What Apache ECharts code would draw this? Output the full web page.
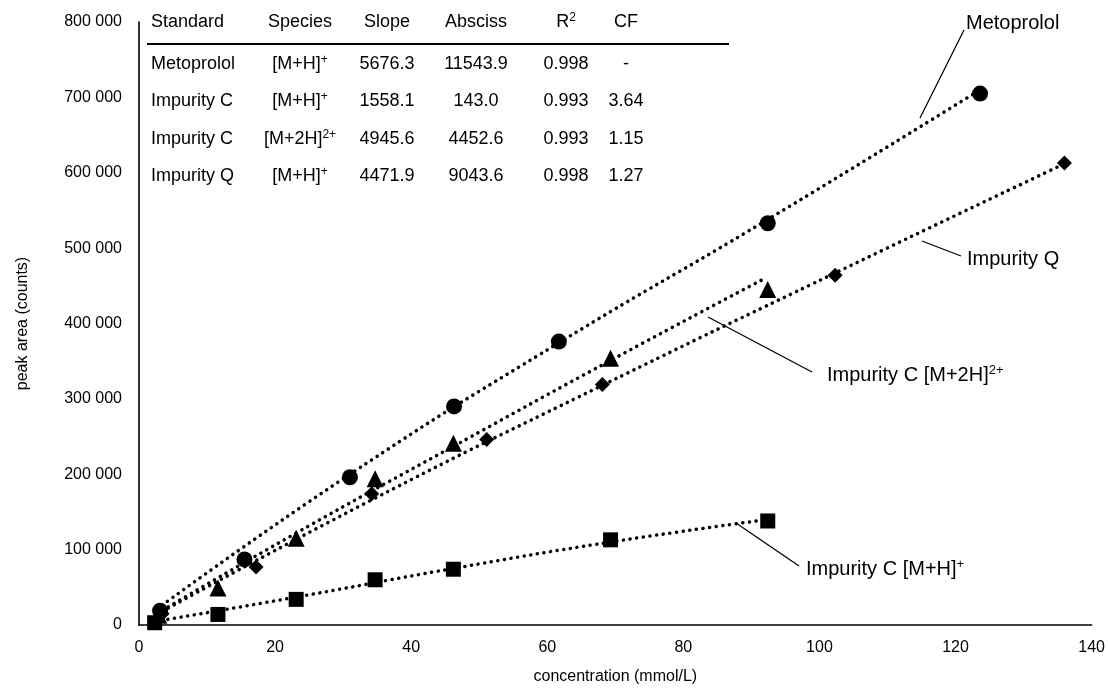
<!DOCTYPE html>
<html>
<head>
<meta charset="utf-8">
<script src="https://cdn.jsdelivr.net/npm/echarts@6/dist/echarts.min.js"></script>
<style>
  html, body { margin: 0; padding: 0; background: #ffffff; }
  #chart { width: 1108px; height: 693px; }
</style>
</head>
<body>
<div id="chart"></div>
<script>
// Calibration measurements: concentration (mmol/L) vs. peak area (counts)
const metoprololPoints = [[3.1, 19000], [15.5, 87000], [31.0, 196000], [46.3, 290000], [61.7, 376000], [92.4, 533000], [123.6, 705000]];
const impurityC2HPoints = [[2.9, 13000], [11.6, 49000], [23.1, 115000], [34.7, 194000], [46.2, 241000], [69.3, 354000], [92.4, 445000]];
const impurityQPoints = [[3.4, 15000], [17.2, 77000], [34.2, 174000], [51.1, 246000], [68.1, 319000], [102.3, 464000], [136.0, 613000]];
const impurityCHPoints = [[2.3, 3000], [11.6, 14000], [23.1, 34000], [34.7, 60000], [46.2, 74000], [69.3, 113000], [92.4, 138000]];

// Fitted calibration curves (dotted)
const metoprololFit = [[2.6, 21000], [31.0, 200000], [62.0, 376000], [92.4, 538000], [123.6, 710000]];
const impurityC2HFit = [[2.6, 15000], [23.1, 122000], [46.2, 237000], [69.3, 351000], [92.0, 460000]];
const impurityQFit = [[2.6, 14000], [34.2, 166000], [68.1, 318000], [102.3, 467000], [136.0, 612000]];
const impurityCHFit = [[2.3, 4500], [23.1, 37000], [46.2, 75000], [69.3, 110000], [92.4, 140000]];

// Summary table
const tableHeader = ['Standard', 'Species', 'Slope', 'Absciss', 'R', 'CF'];
const tableHeaderSup = ['', '', '', '', '2', ''];
const tableStandard = ['Metoprolol', 'Impurity C', 'Impurity C', 'Impurity Q'];
const tableSpeciesBase = ['[M+H]', '[M+H]', '[M+2H]', '[M+H]'];
const tableSpeciesCharge = ['+', '+', '2+', '+'];
const tableSlope = ['5676.3', '1558.1', '4945.6', '4471.9'];
const tableAbsciss = ['11543.9', '143.0', '4452.6', '9043.6'];
const tableR2 = ['0.998', '0.993', '0.993', '0.998'];
const tableCF = ['-', '3.64', '1.15', '1.27'];

// Axis ranges
const xMin = 0, xMax = 140, xStep = 20;
const yMin = 0, yMax = 800000, yStep = 100000;

const FONT = '"Liberation Sans", Arial, sans-serif';
const INK = '#000000';

const chart = echarts.init(document.getElementById('chart'), null, { renderer: 'canvas' });

function fmtThousands(v) {
  return String(v).replace(/\B(?=(\d{3})+(?!\d))/g, ' ');
}

function makeRich(size) {
  return {
    base: { fontSize: size, fontFamily: FONT, color: INK, lineHeight: size + 2 },
    sup: { fontSize: Math.round(size * 0.66), fontFamily: FONT, color: INK, verticalAlign: 'top', lineHeight: size + 2 }
  };
}

function richText(base, sup) {
  return sup ? '{base|' + base + '}{sup|' + sup + '}' : '{base|' + base + '}';
}

function textEl(str, x, y, align, size) {
  return {
    type: 'text', x: x, y: y, silent: true,
    style: {
      text: str, rich: makeRich(size), align: align, verticalAlign: 'middle',
      fontFamily: FONT, fontSize: size, fill: INK
    }
  };
}

// Table layout
const TABLE_FONT = 18;
const colX = [151, 300, 387, 476, 566, 626];
const colAlign = ['left', 'center', 'center', 'center', 'center', 'center'];
const headerY = 22;
const rowY = [64, 101, 139, 176];

const graphics = [];
tableHeader.forEach((h, i) => {
  graphics.push(textEl(richText(h, tableHeaderSup[i]), colX[i], headerY, colAlign[i], TABLE_FONT));
});
graphics.push({
  type: 'line', silent: true,
  shape: { x1: 147, y1: 44, x2: 729, y2: 44 },
  style: { stroke: INK, lineWidth: 2 }
});
tableStandard.forEach((s, r) => {
  const cells = [
    richText(s),
    richText(tableSpeciesBase[r], tableSpeciesCharge[r]),
    richText(tableSlope[r]),
    richText(tableAbsciss[r]),
    richText(tableR2[r]),
    richText(tableCF[r])
  ];
  cells.forEach((c, i) => graphics.push(textEl(c, colX[i], rowY[r], colAlign[i], TABLE_FONT)));
});

// Curve callouts
const CALLOUT_FONT = 20;
const callouts = [
  { text: richText('Metoprolol'), tx: 966, ty: 23, lx1: 964, ly1: 30, lx2: 920, ly2: 118 },
  { text: richText('Impurity Q'), tx: 967, ty: 259, lx1: 961, ly1: 256, lx2: 922, ly2: 241 },
  { text: richText('Impurity C [M+2H]', '2+'), tx: 827, ty: 375, lx1: 812, ly1: 372, lx2: 708, ly2: 317 },
  { text: richText('Impurity C [M+H]', '+'), tx: 806, ty: 569, lx1: 799, ly1: 566, lx2: 736, ly2: 523 }
];
callouts.forEach(c => {
  graphics.push({
    type: 'line', silent: true,
    shape: { x1: c.lx1, y1: c.ly1, x2: c.lx2, y2: c.ly2 },
    style: { stroke: INK, lineWidth: 1.3 }
  });
  graphics.push(textEl(c.text, c.tx, c.ty, 'left', CALLOUT_FONT));
});

const dotted = { color: INK, width: 3.5, type: [0.1, 6.6], cap: 'round' };

function fitSeries(data) {
  return {
    type: 'line', data: data, smooth: true,
    showSymbol: false, symbol: 'none', silent: true, z: 2,
    lineStyle: dotted
  };
}
function markerSeries(data, symbol, size) {
  return {
    type: 'scatter', data: data, symbol: symbol, symbolSize: size, z: 3,
    itemStyle: { color: INK, opacity: 1 }
  };
}

chart.setOption({
  animation: false,
  backgroundColor: '#ffffff',
  grid: { left: 139, right: 14, top: 22, bottom: 68, containLabel: false },
  xAxis: {
    type: 'value', min: xMin, max: xMax, interval: xStep,
    name: 'concentration (mmol/L)', nameLocation: 'middle', nameGap: 44,
    nameTextStyle: { fontFamily: FONT, fontSize: 16, color: INK },
    axisLine: { show: true, lineStyle: { color: INK, width: 1.6 } },
    axisTick: { show: false },
    splitLine: { show: false },
    axisLabel: { fontFamily: FONT, fontSize: 16, color: INK, margin: 15 }
  },
  yAxis: {
    type: 'value', min: yMin, max: yMax, interval: yStep,
    name: 'peak area (counts)', nameLocation: 'middle', nameGap: 108,
    nameTextStyle: { fontFamily: FONT, fontSize: 16, color: INK },
    axisLine: { show: true, lineStyle: { color: INK, width: 1.6 } },
    axisTick: { show: false },
    splitLine: { show: false },
    axisLabel: { fontFamily: FONT, fontSize: 16, color: INK, margin: 17, formatter: fmtThousands }
  },
  series: [
    fitSeries(metoprololFit),
    fitSeries(impurityC2HFit),
    fitSeries(impurityQFit),
    fitSeries(impurityCHFit),
    markerSeries(metoprololPoints, 'circle', 16),
    markerSeries(impurityC2HPoints, 'triangle', 17),
    markerSeries(impurityQPoints, 'diamond', 15),
    markerSeries(impurityCHPoints, 'rect', 15)
  ],
  graphic: graphics
});
</script>
</body>
</html>
